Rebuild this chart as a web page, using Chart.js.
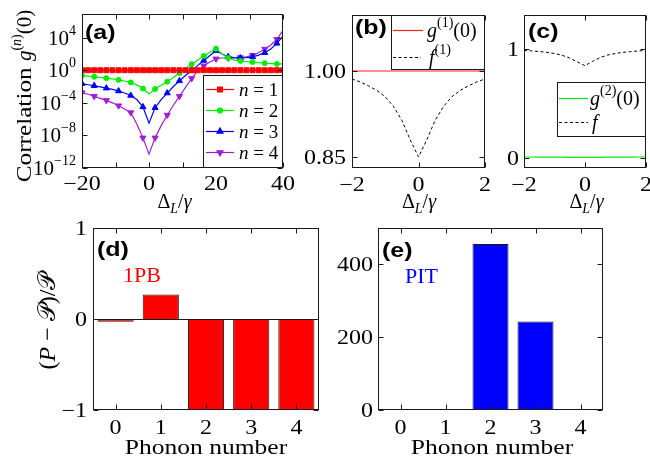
<!DOCTYPE html>
<html>
<head>
<meta charset="utf-8">
<script src="https://cdn.jsdelivr.net/npm/chart.js@4.4.0/dist/chart.umd.min.js"></script>
<style>
  html, body { margin: 0; padding: 0; background: #fff; }
  #wrap { position: relative; width: 650px; height: 466px; overflow: hidden; }
  #wrap canvas { position: absolute; left: 0; top: 0; }
</style>
</head>
<body>
<div id="wrap">
  <canvas id="ca" width="650" height="466"></canvas>
  <canvas id="cb" width="650" height="466"></canvas>
  <canvas id="cc" width="650" height="466"></canvas>
  <canvas id="cd" width="650" height="466"></canvas>
  <canvas id="ce" width="650" height="466"></canvas>
</div>
<script>
// ---- data ----
// (a) detuning grid and log10 of g(n)(0)
const deltaA = [-20, -18.18, -16.36, -14.55, -12.73, -10.91, -9.09, -7.27, -5.45, -3.64, -1.82, 0,
  1.82, 3.64, 5.45, 7.27, 9.09, 10.91, 12.73, 14.55, 16.36, 18.18, 20, 21.82, 23.64, 25.45,
  27.27, 29.09, 30.91, 32.73, 34.55, 36.36, 38.18, 40];
const g1Log = [0, 0, 0, 0, 0, 0, 0, 0, 0, 0, 0, 0, 0, 0, 0, 0, 0, 0, 0, 0, 0, 0, 0, 0, 0, 0, 0, 0, 0, 0, 0, 0, 0, 0];
const g2Log = [-0.65, -0.72, -0.8, -0.88, -0.97, -1.07, -1.18, -1.32, -1.5, -1.8, -2.25, -2.9,
  -2.3, -1.85, -1.4, -0.9, -0.35, 0.2, 0.75, 1.25, 1.75, 2.2, 2.65, 2.0, 1.5, 1.25,
  1.15, 1.05, 1.0, 0.93, 0.87, 0.82, 0.78, 0.78];
const g3Log = [-1.65, -1.78, -1.9, -2.05, -2.2, -2.35, -2.55, -2.8, -3.1, -3.6, -4.5, -6.5,
  -4.6, -3.6, -2.8, -2.0, -1.3, -0.65, -0.05, 0.6, 1.2, 1.8, 2.4, 2.0, 1.65, 1.55,
  1.5, 1.55, 1.65, 1.85, 2.15, 2.6, 3.3, 4.2];
const g4Log = [-2.75, -2.95, -3.2, -3.45, -3.7, -4.0, -4.35, -4.75, -5.2, -6.6, -8.3, -10.3,
  -8.3, -6.8, -5.5, -4.3, -3.2, -2.1, -1.0, -0.05, 0.55, 1.0, 1.4, 1.5, 1.5, 1.5,
  1.55, 1.65, 1.85, 2.15, 2.6, 3.1, 3.8, 4.9];
const yTicksA = [1e-12, 1e-8, 1e-4, 1, 1e4];

// (b), (c) small detuning window
const deltaBC = [-2, -1.75, -1.5, -1.25, -1, -0.75, -0.5, -0.25, 0, 0.25, 0.5, 0.75, 1, 1.25, 1.5, 1.75, 2];
const g1B = [1, 1, 1, 1, 1, 1, 1, 1, 1, 1, 1, 1, 1, 1, 1, 1, 1];
const f1B = [0.986, 0.981, 0.974, 0.966, 0.955, 0.938, 0.914, 0.88, 0.85, 0.88, 0.914, 0.938, 0.955, 0.966, 0.974, 0.981, 0.986];
const g2C = [0.012, 0.012, 0.011, 0.011, 0.01, 0.01, 0.009, 0.009, 0.008, 0.009, 0.009, 0.01, 0.01, 0.011, 0.011, 0.012, 0.012];
const fC = [0.99, 0.985, 0.98, 0.972, 0.962, 0.945, 0.92, 0.885, 0.85, 0.89, 0.925, 0.948, 0.962, 0.972, 0.979, 0.985, 0.99];
const yTicksB = [0.85, 1.0];
const yTicksC = [0, 1];
const xTicksBC = [-2, 0, 2];

// (d), (e) phonon number distributions
const phonons = ['0', '1', '2', '3', '4'];
const relDiff1PB = [-0.03, 0.27, -1, -1, -1];
const relDiffPIT = [0, 0, 456, 243, 0];
const yTicksD = [-1, 0, 1];
const yTicksE = [0, 200, 400];

// ---- drawing helpers ----
const W = 650, H = 466;
const INK = '#1a1a1a';
const SERIF = "'Liberation Serif', 'Times New Roman', serif";
const SANS = "'Liberation Sans', Arial, sans-serif";

function font(p) {
  return (p.i ? 'italic ' : '') + (p.b ? 'bold ' : '') + p.s + 'px ' + (p.f || SERIF);
}
function widthOf(ctx, parts) {
  let w = 0;
  parts.forEach(p => { ctx.font = font(p); w += ctx.measureText(p.t).width * (p.sx || 1); });
  return w;
}
function drawRich(ctx, parts, x, y, align, rot, color) {
  ctx.save();
  ctx.translate(x, y);
  if (rot) ctx.rotate(rot);
  const w = widthOf(ctx, parts);
  let cx = align === 'center' ? -w / 2 : align === 'right' ? -w : 0;
  ctx.textAlign = 'left';
  ctx.textBaseline = 'alphabetic';
  ctx.fillStyle = color || '#000';
  parts.forEach(p => {
    ctx.font = font(p);
    const pw = ctx.measureText(p.t).width * (p.sx || 1);
    ctx.save();
    ctx.translate(cx, p.dy || 0);
    ctx.scale(p.sx || 1, 1);
    ctx.fillText(p.t, 0, 0);
    ctx.restore();
    cx += pw;
  });
  ctx.restore();
}
const tickText = t => [{ t: String(t).replace('-', '\u2212'), s: 20, sx: 1.2 }];

function marker(ctx, ds, x, y) {
  if (!ds.pointStyle) return;
  ctx.fillStyle = ds.borderColor;
  ctx.strokeStyle = ds.borderColor;
  Chart.helpers.drawPoint(ctx, {
    pointStyle: ds.pointStyle, rotation: ds.pointRotation || 0,
    radius: ds.legendRadius, borderWidth: 1
  }, x, y);
}

// box with inward ticks, tick labels, legend and free text
const deco = {
  id: 'deco',
  afterDraw(chart, args, o) {
    const { ctx, chartArea: a, scales } = chart;
    const sx = scales.x, sy = scales.y;
    const L = Math.round(a.left) + 0.5, R = Math.round(a.right) - 0.5;
    const T = Math.round(a.top) + 0.5, B = Math.round(a.bottom) - 0.5;
    const len = 5;
    ctx.save();
    ctx.strokeStyle = INK;
    ctx.lineWidth = 1;
    ctx.beginPath();
    sx.ticks.forEach((t, i) => {
      const px = Math.round(sx.getPixelForTick(i)) + 0.5;
      ctx.moveTo(px, B); ctx.lineTo(px, B - len);
      ctx.moveTo(px, T); ctx.lineTo(px, T + len);
    });
    sy.ticks.forEach((t, i) => {
      const py = Math.round(sy.getPixelForTick(i)) + 0.5;
      ctx.moveTo(L, py); ctx.lineTo(L + len, py);
      ctx.moveTo(R, py); ctx.lineTo(R - len, py);
    });
    if (o.zeroLine) {
      const pz = Math.round(sy.getPixelForValue(0)) + 0.5;
      ctx.moveTo(L, pz); ctx.lineTo(R, pz);
    }
    ctx.stroke();
    ctx.strokeRect(L, T, R - L, B - T);

    sx.ticks.forEach((t, i) => {
      const parts = o.xTick(t.value, i);
      if (parts) drawRich(ctx, parts, sx.getPixelForTick(i), o.xBase, 'center');
    });
    sy.ticks.forEach((t, i) => {
      const parts = o.yTick(t.value, i);
      if (parts) drawRich(ctx, parts, o.yRight, sy.getPixelForTick(i) + 7, 'right');
    });

    if (o.legend) {
      const [x0, y0, x1, y1] = o.legend.box;
      ctx.fillStyle = '#fff';
      ctx.fillRect(x0, y0, x1 - x0, y1 - y0);
      ctx.strokeStyle = INK;
      ctx.strokeRect(x0 + 0.5, y0 + 0.5, x1 - x0 - 1, y1 - y0 - 1);
      o.legend.rows.forEach(r => {
        const ds = chart.data.datasets[r.ds];
        ctx.save();
        ctx.strokeStyle = ds.borderColor;
        ctx.lineWidth = ds.borderWidth;
        ctx.setLineDash(ds.borderDash || []);
        ctx.beginPath();
        ctx.moveTo(r.x0, r.y + 0.5); ctx.lineTo(r.x1, r.y + 0.5);
        ctx.stroke();
        ctx.setLineDash([]);
        marker(ctx, ds, (r.x0 + r.x1) / 2, r.y + 0.5);
        ctx.restore();
        drawRich(ctx, r.parts, r.tx, r.y + 7, 'left');
      });
    }
    (o.texts || []).forEach(t => drawRich(ctx, t.parts, t.x, t.y, t.align, t.rot, t.color));
    ctx.restore();
  }
};

function base(area, xCfg, yCfg, decoCfg) {
  const hidden = { grid: { display: false, drawTicks: false }, border: { display: false }, ticks: { display: false } };
  return {
    responsive: false,
    animation: false,
    events: [],
    layout: { padding: { left: area[0], top: area[1], right: W - area[2], bottom: 0 } },
    scales: {
      x: Object.assign({}, hidden, xCfg, {
        afterFit: s => { s.height = H - area[3]; s.paddingLeft = 0; s.paddingRight = 0; }
      }),
      y: Object.assign({}, hidden, yCfg, {
        afterFit: s => { s.width = 0; s.paddingTop = 0; s.paddingBottom = 0; }
      })
    },
    plugins: { legend: { display: false }, tooltip: { enabled: false }, deco: decoCfg }
  };
}
const setTicks = list => s => { s.ticks = list.map(v => ({ value: v })); };

const deltaTitle = [{ t: '\u0394', s: 20 }, { t: 'L', s: 14, i: true, dy: 5 }, { t: '/', s: 20 }, { t: '\u03b3', s: 20, i: true }];
const sup = (t, i) => ({ t, s: 14, i, dy: -10 });
const tag = t => [{ t, s: 20, b: true, f: SANS, sx: 1.25 }];

// ---- (a) ----
function series(logs, color, style, rot, r, every) {
  return {
    data: deltaA.map((x, i) => ({ x, y: Math.pow(10, logs[i]) })),
    borderColor: color, backgroundColor: color, borderWidth: 1.2,
    pointStyle: style, pointRotation: rot, legendRadius: r,
    pointRadius: c => (c.dataIndex % every === 0 ? r : 0),
    pointBorderWidth: 1, tension: 0
  };
}
new Chart(document.getElementById('ca'), {
  type: 'line',
  data: {
    datasets: [
      series(g1Log, '#ff0000', 'rect', 0, 3.5, 1),
      series(g2Log, '#00ee00', 'circle', 0, 2.5, 2),
      series(g3Log, '#0000ff', 'triangle', 0, 3.5, 2),
      series(g4Log, '#a020d0', 'triangle', 180, 3.5, 2)
    ]
  },
  options: base([82, 14, 283, 168],
    { type: 'linear', min: -20, max: 40, ticks: { display: false, stepSize: 10 } },
    { type: 'logarithmic', min: 1e-12, max: 8e6, afterBuildTicks: setTicks(yTicksA) },
    {
      xBase: 190, yRight: 76,
      xTick: v => (v % 20 === 0 ? tickText(v) : null),
      yTick: v => {
        const e = Math.round(Math.log10(v));
        return [{ t: '10', s: 21 }, { t: String(e).replace('-', '\u2212'), s: 14, dy: -10 }];
      },
      legend: {
        box: [203, 75, 283, 168],
        rows: [1, 2, 3, 4].map((n, k) => ({
          ds: k, y: [89, 110, 131, 152][k], x0: 206, x1: 234, tx: 239,
          parts: [{ t: 'n', s: 19, i: true }, { t: ' = ' + n, s: 19 }]
        }))
      },
      texts: [
        { parts: tag('(a)'), x: 85, y: 39 },
        { parts: deltaTitle, x: 174.5, y: 208, align: 'center' },
        {
          parts: [{ t: 'Correlation ', s: 21, sx: 1.2 }, { t: 'g', s: 21, i: true },
            sup('('), sup('n', true), sup(')'), { t: '(0)', s: 21 }],
          x: 30.5, y: 96, align: 'center', rot: -Math.PI / 2
        }
      ]
    })
  ,
  plugins: [deco]
});

// ---- (b) ----
new Chart(document.getElementById('cb'), {
  type: 'line',
  data: {
    datasets: [
      { data: deltaBC.map((x, i) => ({ x, y: g1B[i] })), borderColor: '#ff2020', borderWidth: 1.2, pointRadius: 0 },
      { data: deltaBC.map((x, i) => ({ x, y: f1B[i] })), borderColor: '#000', borderWidth: 1, borderDash: [3, 2.5], pointRadius: 0 }
    ]
  },
  options: base([352, 15, 485, 168],
    { type: 'linear', min: -2, max: 2, afterBuildTicks: setTicks(xTicksBC) },
    { type: 'linear', min: 0.8308, max: 1.0977, afterBuildTicks: setTicks(yTicksB) },
    {
      xBase: 191, yRight: 346,
      xTick: v => tickText(v),
      yTick: v => tickText(v.toFixed(2)),
      legend: {
        box: [391, 15, 485, 70],
        rows: [
          { ds: 0, y: 30, x0: 393, x1: 423, tx: 427, parts: [{ t: 'g', s: 20, i: true }, sup('(1)'), { t: '(0)', s: 20 }] },
          { ds: 1, y: 57, x0: 393, x1: 421, tx: 429, parts: [{ t: 'f', s: 20, i: true }, sup('(1)')] }
        ]
      },
      texts: [
        { parts: tag('(b)'), x: 355, y: 34 },
        { parts: deltaTitle, x: 419, y: 208, align: 'center' }
      ]
    }),
  plugins: [deco]
});

// ---- (c) ----
new Chart(document.getElementById('cc'), {
  type: 'line',
  data: {
    datasets: [
      { data: deltaBC.map((x, i) => ({ x, y: g2C[i] })), borderColor: '#00ee00', borderWidth: 1.2, pointRadius: 0 },
      { data: deltaBC.map((x, i) => ({ x, y: fC[i] })), borderColor: '#000', borderWidth: 1, borderDash: [3, 2.5], pointRadius: 0 }
    ]
  },
  options: base([524, 15, 646, 168],
    { type: 'linear', min: -2, max: 2, afterBuildTicks: setTicks(xTicksBC) },
    { type: 'linear', min: -0.089, max: 1.315, afterBuildTicks: setTicks(yTicksC) },
    {
      xBase: 191, yRight: 519,
      xTick: v => tickText(v),
      yTick: v => tickText(v),
      legend: {
        box: [557, 82, 646, 137],
        rows: [
          { ds: 0, y: 98, x0: 559, x1: 588, tx: 590, parts: [{ t: 'g', s: 20, i: true }, sup('(2)'), { t: '(0)', s: 20 }] },
          { ds: 1, y: 122, x0: 559, x1: 588, tx: 592, parts: [{ t: 'f', s: 20, i: true }] }
        ]
      },
      texts: [
        { parts: tag('(c)'), x: 528, y: 38 },
        { parts: deltaTitle, x: 586.5, y: 208, align: 'center' }
      ]
    }),
  plugins: [deco]
});

// ---- (d) ----
const phononTitle = [{ t: 'Phonon number', s: 22, sx: 1.16 }];
new Chart(document.getElementById('cd'), {
  type: 'bar',
  data: {
    labels: phonons,
    datasets: [{ data: relDiff1PB, backgroundColor: '#ff0000', borderColor: INK, borderWidth: 1,
      barPercentage: 0.8, categoryPercentage: 1 }]
  },
  options: base([93, 228, 319, 410],
    { type: 'category' },
    { type: 'linear', min: -1, max: 1, afterBuildTicks: setTicks(yTicksD) },
    {
      xBase: 434, yRight: 87, zeroLine: true,
      xTick: (v, i) => tickText(phonons[i]),
      yTick: v => tickText(v),
      texts: [
        { parts: tag('(d)'), x: 97, y: 256 },
        { parts: [{ t: '1PB', s: 22 }], x: 123, y: 282, color: '#ff0000' },
        { parts: phononTitle, x: 206, y: 454, align: 'center' },
        {
          parts: [{ t: '(', s: 24 }, { t: 'P', s: 24, i: true }, { t: ' \u2212 ', s: 24 },
            { t: '\u{1D4AB}', s: 24 }, { t: ')/', s: 24 }, { t: '\u{1D4AB}', s: 24 }],
          x: 55, y: 321, align: 'center', rot: -Math.PI / 2
        }
      ]
    }),
  plugins: [deco]
});

// ---- (e) ----
new Chart(document.getElementById('ce'), {
  type: 'bar',
  data: {
    labels: phonons,
    datasets: [{ data: relDiffPIT, backgroundColor: '#0000ff', borderColor: INK, borderWidth: 1,
      barPercentage: 0.8, categoryPercentage: 1 }]
  },
  options: base([378, 228, 603, 410],
    { type: 'category' },
    { type: 'linear', min: 0, max: 500, afterBuildTicks: setTicks(yTicksE) },
    {
      xBase: 434, yRight: 373,
      xTick: (v, i) => tickText(phonons[i]),
      yTick: v => tickText(v),
      texts: [
        { parts: tag('(e)'), x: 382, y: 257 },
        { parts: [{ t: 'PIT', s: 22 }], x: 405, y: 283, color: '#0000ff' },
        { parts: phononTitle, x: 492, y: 454, align: 'center' }
      ]
    }),
  plugins: [deco]
});
</script>
</body>
</html>
